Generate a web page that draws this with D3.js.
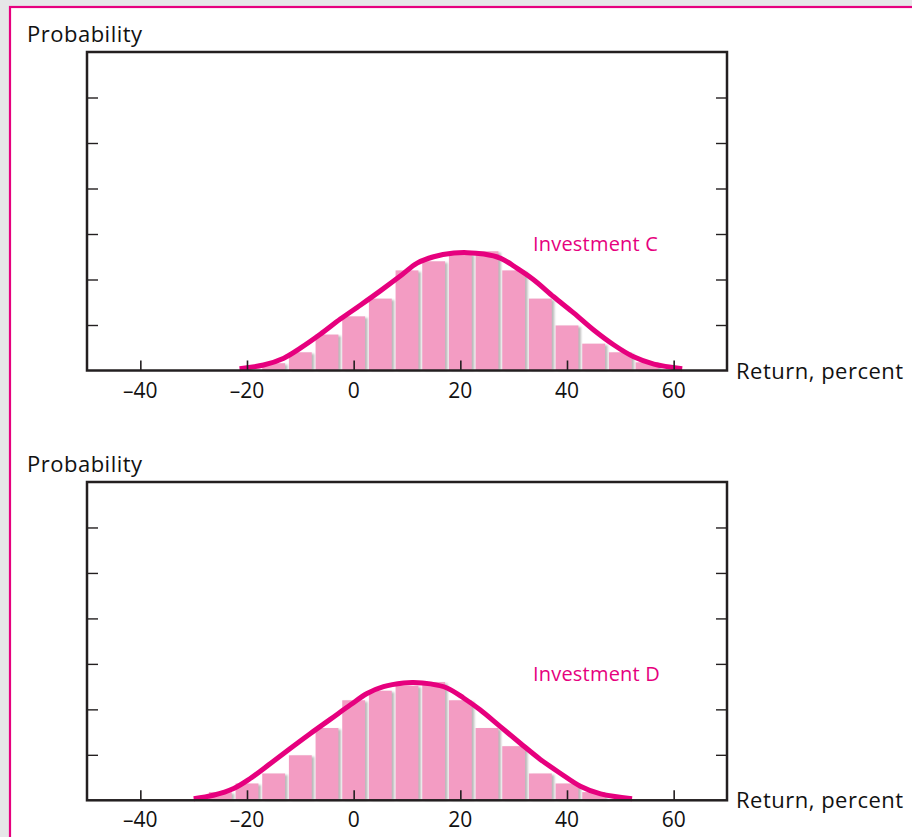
<!DOCTYPE html>
<html>
<head>
<meta charset="utf-8">
<script src="https://cdn.jsdelivr.net/npm/d3@7"></script>
<style>
  html, body { margin: 0; padding: 0; background: #e6e7e8; }
  svg { display: block; }
</style>
</head>
<body>
<svg id="chart" width="912" height="837"></svg>
<script>
// ---------- data ----------
const xTickValues = [-40, -20, 0, 20, 40, 60];
const xTickLabels = ["\u201340", "\u201320", "0", "20", "40", "60"];
const yTickValues = [1, 2, 3, 4, 5, 6];

const binsC = [-15, -10, -5, 0, 5, 10, 15, 20, 25, 30, 35, 40, 45, 50, 55];
const probC = [0.16, 0.40, 0.79, 1.19, 1.58, 2.20, 2.40, 2.57, 2.62, 2.20, 1.58, 0.99, 0.59, 0.40, 0.18];
const curveCx = [-21.4, -16.9, -13.1, -10.0, -6.2, -2.5, 1.3, 5.0, 8.8, 11.9, 15.0, 18.8, 21.3, 24.4, 27.5, 30.6, 33.8, 37.5, 41.3, 45.0, 48.8, 52.5, 56.3, 61.6];
const curveCy = [0.04, 0.12, 0.27, 0.49, 0.80, 1.13, 1.44, 1.75, 2.08, 2.36, 2.50, 2.58, 2.59, 2.56, 2.47, 2.25, 1.99, 1.62, 1.26, 0.89, 0.56, 0.30, 0.14, 0.04];

const binsD = [-25, -20, -15, -10, -5, 0, 5, 10, 15, 20, 25, 30, 35, 40, 45];
const probD = [0.18, 0.37, 0.59, 0.99, 1.59, 2.20, 2.41, 2.52, 2.60, 2.20, 1.59, 1.19, 0.59, 0.37, 0.18];
const curveDx = [-30.0, -26.3, -22.5, -19.4, -15.6, -11.9, -8.1, -4.4, -0.6, 2.5, 5.6, 9.4, 11.2, 14.4, 17.5, 20.6, 23.7, 27.5, 31.3, 35.0, 38.8, 42.5, 46.3, 52.2];
const curveDy = [0.035, 0.11, 0.26, 0.48, 0.81, 1.14, 1.47, 1.78, 2.10, 2.35, 2.50, 2.58, 2.59, 2.56, 2.47, 2.25, 1.99, 1.62, 1.25, 0.90, 0.59, 0.31, 0.14, 0.035];

const panelNames = ["Investment C", "Investment D"];
const yTitle = "Probability";
const xTitle = "Return, percent";

// ---------- style ----------
const MAGENTA = "#e6007e";
const BAR = "#f39cc3";
const INK = "#231f20";
const FONT = "'Open Sans', Lato, sans-serif";

const svg = d3.select("#chart");

// page background with magenta frame
svg.append("rect").attr("x", 10).attr("y", 7).attr("width", 940).attr("height", 880)
  .attr("fill", "#fff").attr("stroke", MAGENTA).attr("stroke-width", 2.2);

const defs = svg.append("defs");
defs.append("filter").attr("id", "soft").attr("x", "-50%").attr("y", "-10%").attr("width", "200%").attr("height", "120%")
  .append("feGaussianBlur").attr("stdDeviation", 1.1);

const x = d3.scaleLinear().domain([-50, 70]).range([87, 727]);

const panels = [
  { top: 52, bottom: 370.5, bins: binsC, prob: probC, cx: curveCx, cy: curveCy, name: panelNames[0] },
  { top: 482, bottom: 800.3, bins: binsD, prob: probD, cx: curveDx, cy: curveDy, name: panelNames[1] }
];

panels.forEach(p => {
  const y = d3.scaleLinear().domain([0, 7]).range([p.bottom, p.top]);
  const g = svg.append("g");
  const bw = x(5) - x(0);
  const pinkW = bw - 3.8;

  // shadows
  g.append("g").attr("filter", "url(#soft)").selectAll("rect").data(p.bins).join("rect")
    .attr("x", d => x(d) - pinkW / 2 + 2.5)
    .attr("y", (d, i) => y(p.prob[i]) + 1.5)
    .attr("width", pinkW)
    .attr("height", (d, i) => p.bottom - y(p.prob[i]) - 1.5)
    .attr("fill", "#b9b9b9");
  // bars
  g.append("g").selectAll("rect").data(p.bins).join("rect")
    .attr("x", d => x(d) - pinkW / 2)
    .attr("y", (d, i) => y(p.prob[i]))
    .attr("width", pinkW)
    .attr("height", (d, i) => p.bottom - y(p.prob[i]))
    .attr("fill", BAR);

  // curve
  const pts = p.cx.map((v, i) => [v, p.cy[i]]);
  g.append("path").datum(pts)
    .attr("d", d3.line().x(d => x(d[0])).y(d => y(d[1])).curve(d3.curveCatmullRom.alpha(0.5)))
    .attr("fill", "none").attr("stroke", MAGENTA).attr("stroke-width", 5).attr("stroke-linecap", "butt");

  // x ticks (inside, going up)
  const xAxis = d3.axisTop(x).tickValues(xTickValues).tickSize(10).tickFormat("");
  const xa = g.append("g").attr("transform", `translate(0,${p.bottom})`).call(xAxis);
  xa.select(".domain").remove();
  xa.selectAll("line").attr("stroke", INK).attr("stroke-width", 1.6);

  // y ticks left & right (inside)
  const yl = g.append("g").attr("transform", `translate(${x(-50)},0)`)
    .call(d3.axisRight(y).tickValues(yTickValues).tickSize(11).tickFormat(""));
  yl.select(".domain").remove();
  yl.selectAll("line").attr("stroke", INK).attr("stroke-width", 1.4);
  const yr = g.append("g").attr("transform", `translate(${x(70)},0)`)
    .call(d3.axisLeft(y).tickValues(yTickValues).tickSize(11).tickFormat(""));
  yr.select(".domain").remove();
  yr.selectAll("line").attr("stroke", INK).attr("stroke-width", 1.4);

  // frame
  g.append("rect").attr("x", x(-50)).attr("y", p.top)
    .attr("width", x(70) - x(-50)).attr("height", p.bottom - p.top)
    .attr("fill", "none").attr("stroke", INK).attr("stroke-width", 2.5);

  // tick labels
  g.append("g").selectAll("text").data(xTickValues).join("text")
    .attr("x", d => x(d)).attr("y", p.bottom + 27)
    .attr("text-anchor", "middle")
    .attr("font-family", FONT).attr("font-size", 21).attr("fill", "#111")
    .text((d, i) => xTickLabels[i]);

  // titles
  g.append("text").attr("x", 27).attr("y", p.top - 10)
    .attr("font-family", FONT).attr("font-size", 22).attr("letter-spacing", 0.5).attr("fill", "#111").text(yTitle);
  g.append("text").attr("x", 736).attr("y", p.bottom + 8)
    .attr("font-family", FONT).attr("font-size", 22).attr("letter-spacing", 0.5).attr("fill", "#111").text(xTitle);

  // series label
  g.append("text").attr("x", 533).attr("y", y(2.65) + 1)
    .attr("font-family", FONT).attr("font-size", 20).attr("letter-spacing", 0.2).attr("fill", MAGENTA).text(p.name);
});
</script>
</body>
</html>
